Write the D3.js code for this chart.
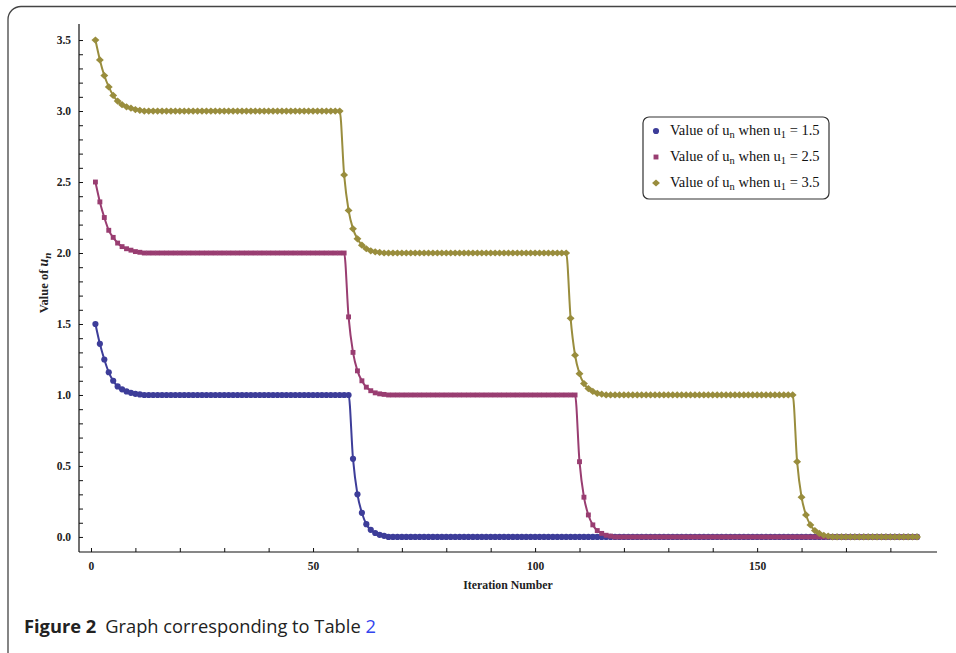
<!DOCTYPE html>
<html>
<head>
<meta charset="utf-8">
<script src="https://cdn.jsdelivr.net/npm/d3@7"></script>
<style>
  body { margin: 0; background: #fff; }
  svg { display: block; }
</style>
</head>
<body>
<svg></svg>
<script>
// iteration numbers 1..186
let iterations = d3.range(1, 187)

// u1 = 1.5
let seriesA = [
  1.5, 1.36, 1.25, 1.16, 1.1, 1.06, 1.04, 1.025, 1.015, 1.008,
  1.004, 1, 1, 1, 1, 1, 1, 1, 1, 1,
  1, 1, 1, 1, 1, 1, 1, 1, 1, 1,
  1, 1, 1, 1, 1, 1, 1, 1, 1, 1,
  1, 1, 1, 1, 1, 1, 1, 1, 1, 1,
  1, 1, 1, 1, 1, 1, 1, 1, 0.55, 0.3,
  0.17, 0.09, 0.05, 0.028, 0.015, 0.008, 0, 0, 0, 0,
  0, 0, 0, 0, 0, 0, 0, 0, 0, 0,
  0, 0, 0, 0, 0, 0, 0, 0, 0, 0,
  0, 0, 0, 0, 0, 0, 0, 0, 0, 0,
  0, 0, 0, 0, 0, 0, 0, 0, 0, 0,
  0, 0, 0, 0, 0, 0, 0, 0, 0, 0,
  0, 0, 0, 0, 0, 0, 0, 0, 0, 0,
  0, 0, 0, 0, 0, 0, 0, 0, 0, 0,
  0, 0, 0, 0, 0, 0, 0, 0, 0, 0,
  0, 0, 0, 0, 0, 0, 0, 0, 0, 0,
  0, 0, 0, 0, 0, 0, 0, 0, 0, 0,
  0, 0, 0, 0, 0, 0, 0, 0, 0, 0,
  0, 0, 0, 0, 0, 0
]

// u1 = 2.5
let seriesB = [
  2.5, 2.36, 2.25, 2.16, 2.11, 2.07, 2.045, 2.03, 2.02, 2.01,
  2.005, 2, 2, 2, 2, 2, 2, 2, 2, 2,
  2, 2, 2, 2, 2, 2, 2, 2, 2, 2,
  2, 2, 2, 2, 2, 2, 2, 2, 2, 2,
  2, 2, 2, 2, 2, 2, 2, 2, 2, 2,
  2, 2, 2, 2, 2, 2, 2, 1.55, 1.3, 1.17,
  1.1, 1.055, 1.03, 1.015, 1.008, 1.004, 1, 1, 1, 1,
  1, 1, 1, 1, 1, 1, 1, 1, 1, 1,
  1, 1, 1, 1, 1, 1, 1, 1, 1, 1,
  1, 1, 1, 1, 1, 1, 1, 1, 1, 1,
  1, 1, 1, 1, 1, 1, 1, 1, 1, 0.53,
  0.28, 0.155, 0.085, 0.045, 0.025, 0.012, 0.006, 0, 0, 0,
  0, 0, 0, 0, 0, 0, 0, 0, 0, 0,
  0, 0, 0, 0, 0, 0, 0, 0, 0, 0,
  0, 0, 0, 0, 0, 0, 0, 0, 0, 0,
  0, 0, 0, 0, 0, 0, 0, 0, 0, 0,
  0, 0, 0, 0, 0, 0, 0, 0, 0, 0,
  0, 0, 0, 0, 0, 0, 0, 0, 0, 0,
  0, 0, 0, 0, 0, 0
]

// u1 = 3.5
let seriesC = [
  3.5, 3.36, 3.25, 3.17, 3.11, 3.07, 3.045, 3.03, 3.02, 3.01,
  3.005, 3, 3, 3, 3, 3, 3, 3, 3, 3,
  3, 3, 3, 3, 3, 3, 3, 3, 3, 3,
  3, 3, 3, 3, 3, 3, 3, 3, 3, 3,
  3, 3, 3, 3, 3, 3, 3, 3, 3, 3,
  3, 3, 3, 3, 3, 3, 2.55, 2.3, 2.17, 2.1,
  2.055, 2.03, 2.015, 2.008, 2.004, 2, 2, 2, 2, 2,
  2, 2, 2, 2, 2, 2, 2, 2, 2, 2,
  2, 2, 2, 2, 2, 2, 2, 2, 2, 2,
  2, 2, 2, 2, 2, 2, 2, 2, 2, 2,
  2, 2, 2, 2, 2, 2, 2, 1.54, 1.28, 1.15,
  1.08, 1.045, 1.025, 1.012, 1.006, 1, 1, 1, 1, 1,
  1, 1, 1, 1, 1, 1, 1, 1, 1, 1,
  1, 1, 1, 1, 1, 1, 1, 1, 1, 1,
  1, 1, 1, 1, 1, 1, 1, 1, 1, 1,
  1, 1, 1, 1, 1, 1, 1, 1, 0.53, 0.28,
  0.155, 0.085, 0.045, 0.025, 0.012, 0.006, 0, 0, 0, 0,
  0, 0, 0, 0, 0, 0, 0, 0, 0, 0,
  0, 0, 0, 0, 0, 0
]

let startValues = ['1.5', '2.5', '3.5']
let xTickValues = [0, 50, 100, 150]
let yTickValues = [0, 0.5, 1, 1.5, 2, 2.5, 3, 3.5]

let colors = ['#3d3d99', '#993d71', '#998d3d']

// wide diamond like Mathematica's marker
let wideDiamond = {
  draw: (context, size) => {
    let r = Math.sqrt(size / 2)
    context.moveTo(0, -r)
    context.lineTo(r * 1.1, 0)
    context.lineTo(0, r)
    context.lineTo(-r * 1.1, 0)
    context.closePath()
  }
}
let symbols = [d3.symbolCircle, d3.symbolSquare, wideDiamond]
let symbolSizes = [30, 24, 26]

let width = 956
let height = 653

let svg = d3.select('svg')
  .attr('width', width)
  .attr('height', height)

let xScale = d3.scaleLinear().domain([-2.7, 190.5]).range([79, 937])
let yScale = d3.scaleLinear().domain([-0.106, 3.613]).range([552, 24])

let serif = 'Liberation Serif, Times New Roman, serif'

// frame around figure
svg.append('path')
  .attr('d', 'M 960 6.5 H 21 A 13 13 0 0 0 8 19.5 V 665')
  .attr('fill', 'none')
  .attr('stroke', '#444')
  .attr('stroke-width', 1.3)

let drawAxes = () => {
  let xAxis = d3.axisBottom(xScale)
    .tickValues(d3.range(0, 190, 10))
    .tickSize(-4)
    .tickPadding(10)
    .tickFormat(d => xTickValues.includes(d) ? d : '')

  let gx = svg.append('g')
    .attr('transform', 'translate(0,' + yScale.range()[0] + ')')
    .call(xAxis)
  gx.select('.domain').attr('d', 'M' + xScale.range()[0] + ',0H' + xScale.range()[1])

  let yAxis = d3.axisLeft(yScale)
    .tickValues(d3.range(0, 36).map(d => d / 10))
    .tickSize(-4)
    .tickPadding(8)
    .tickFormat(d => yTickValues.includes(Math.round(d * 10) / 10) && Math.round(d * 10) % 5 === 0 ? d3.format('.1f')(d) : '')

  let gy = svg.append('g')
    .attr('transform', 'translate(' + xScale.range()[0] + ',0)')
    .call(yAxis)
  gy.select('.domain').attr('d', 'M0,' + yScale.range()[0] + 'V' + yScale.range()[1])

  svg.selectAll('.domain').attr('stroke', '#111').attr('stroke-width', 1.2)
  svg.selectAll('.tick line').attr('stroke', '#111')
  svg.selectAll('.tick text')
    .attr('font-family', serif)
    .attr('font-weight', 'bold')
    .attr('font-size', 11.5)
    .attr('fill', '#222')

  svg.append('text')
    .attr('x', (xScale.range()[0] + xScale.range()[1]) / 2)
    .attr('y', 589)
    .attr('text-anchor', 'middle')
    .attr('font-family', serif)
    .attr('font-weight', 'bold')
    .attr('font-size', 11.8)
    .attr('fill', '#222')
    .text('Iteration Number')

  let yl = svg.append('text')
    .attr('transform', 'translate(48,283) rotate(-90)')
    .attr('text-anchor', 'middle')
    .attr('font-family', serif)
    .attr('font-weight', 'bold')
    .attr('font-size', 12.5)
    .attr('fill', '#222')
  yl.append('tspan').text('Value of ')
  yl.append('tspan').attr('font-style', 'italic').attr('font-size', 14).text('u')
  yl.append('tspan').attr('font-style', 'italic').attr('font-size', 11).attr('dy', 3).text('n')
}

let drawSeries = () => {
  let allSeries = [seriesA, seriesB, seriesC]
  let line = d3.line()
    .x((d, i) => xScale(iterations[i]))
    .y(d => yScale(d))
    .curve(d3.curveMonotoneX)

  allSeries.forEach((values, k) => {
    let g = svg.append('g')
    g.append('path')
      .attr('d', line(values))
      .attr('fill', 'none')
      .attr('stroke', colors[k])
      .attr('stroke-width', 2)

    g.selectAll('path.pt')
      .data(values)
      .enter()
      .append('path')
      .attr('class', 'pt')
      .attr('d', d3.symbol().type(symbols[k]).size(symbolSizes[k]))
      .attr('transform', (d, i) => 'translate(' + xScale(iterations[i]) + ',' + yScale(d) + ')')
      .attr('fill', colors[k])
  })
}

let drawLegend = () => {
  let lg = svg.append('g').attr('transform', 'translate(643,117)')
  lg.append('rect')
    .attr('width', 186)
    .attr('height', 82)
    .attr('rx', 6)
    .attr('fill', '#fff')
    .attr('stroke', '#333')
    .attr('stroke-width', 1.2)

  startValues.forEach((s, k) => {
    let row = lg.append('g').attr('transform', 'translate(0,' + (14 + k * 26) + ')')
    row.append('path')
      .attr('d', d3.symbol().type(symbols[k]).size(symbolSizes[k]))
      .attr('transform', 'translate(13,0)')
      .attr('fill', colors[k])
    let t = row.append('text')
      .attr('x', 27)
      .attr('y', 4)
      .attr('font-family', serif)
      .attr('font-size', 14.5)
      .attr('fill', '#111')
    t.append('tspan').text('Value of u')
    t.append('tspan').attr('font-size', 10.5).attr('dy', 3).text('n')
    t.append('tspan').attr('dy', -3).text(' when u')
    t.append('tspan').attr('font-size', 10.5).attr('dy', 3).text('1')
    t.append('tspan').attr('dy', -3).text(' = ' + s)
  })
}

let drawCaption = () => {
  let c = svg.append('text')
    .attr('x', 24)
    .attr('y', 633)
    .attr('font-family', 'Open Sans, Noto Sans, sans-serif')
    .attr('font-size', 18.3)
    .attr('fill', '#222')
  c.append('tspan').attr('font-weight', 'bold').text('Figure 2')
  c.append('tspan').attr('dx', 9).text('Graph corresponding to Table ')
  c.append('tspan').attr('fill', '#3344ee').text('2')
}

drawAxes()
drawSeries()
drawLegend()
drawCaption()
</script>
</body>
</html>
